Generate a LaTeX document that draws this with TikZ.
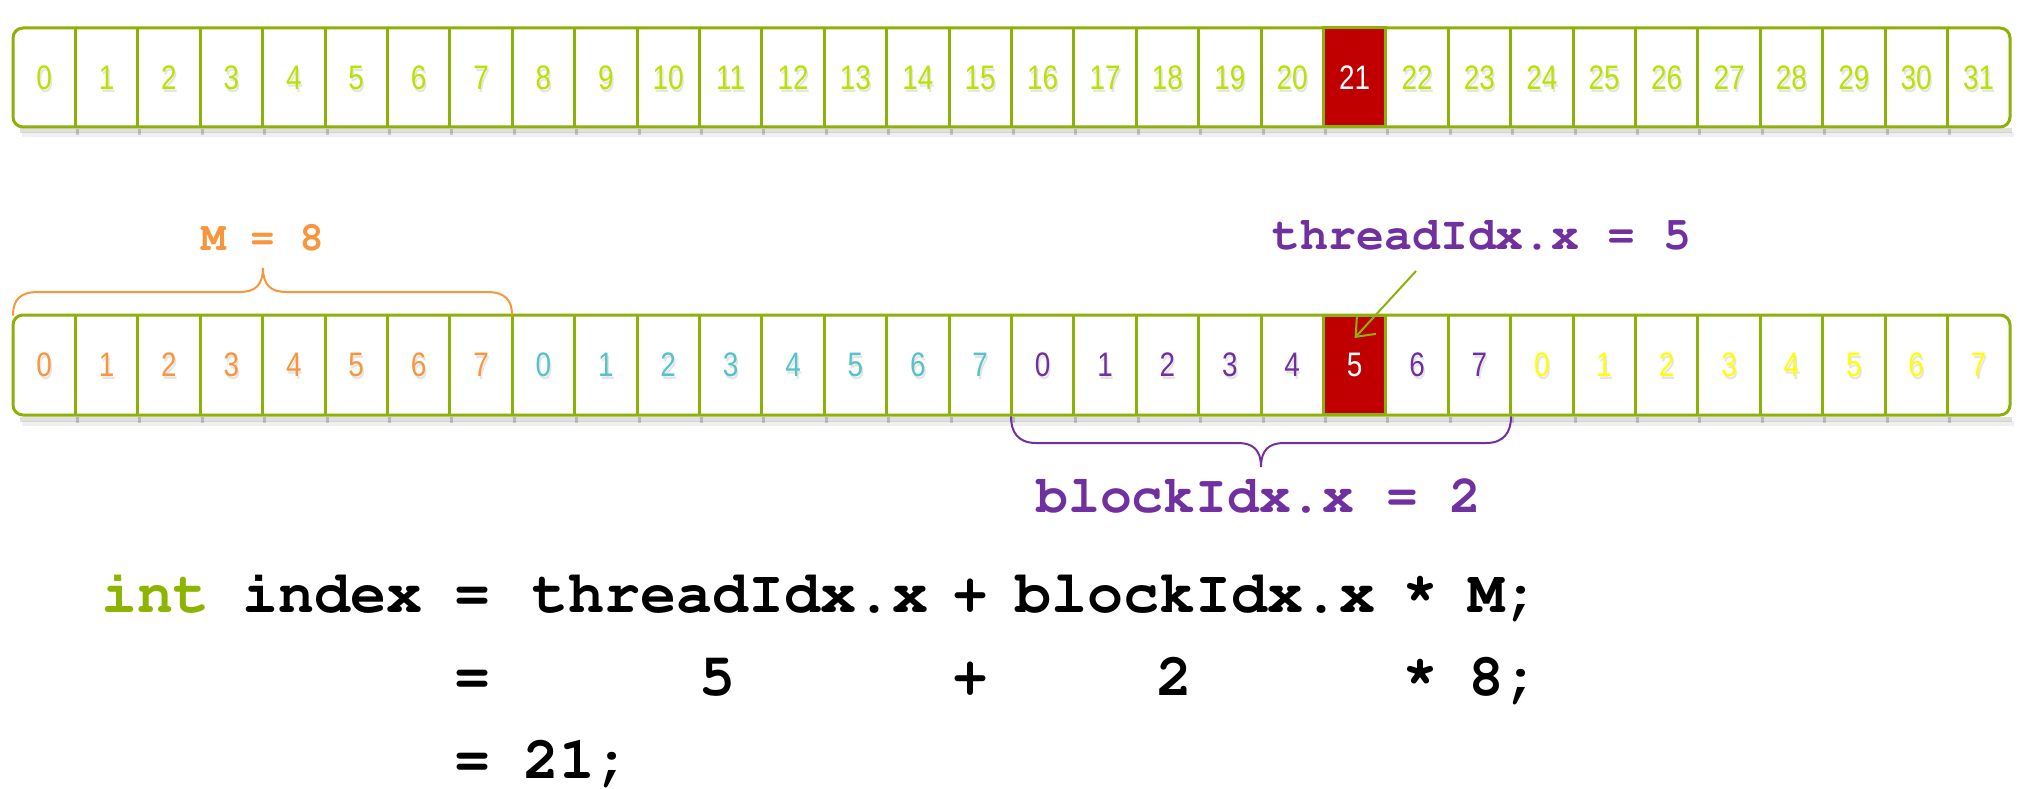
\documentclass[tikz,border=0pt]{standalone}
\usepackage[T1]{fontenc}
\usepackage{fontspec}
\setmainfont{Liberation Sans}
\setmonofont{Liberation Mono}
\newfontfamily\cellfont[FakeStretch=0.82]{Liberation Sans}
\newcommand\courb{\fontencoding{T1}\fontfamily{pcr}\fontseries{b}\fontshape{n}\selectfont}
\usetikzlibrary{arrows.meta,calc}
\definecolor{bordergreen}{RGB}{140,178,10}
\definecolor{limeg}{RGB}{184,226,0}
\definecolor{cellred}{RGB}{192,0,0}
\definecolor{orng}{RGB}{247,150,60}
\definecolor{tealc}{RGB}{85,195,200}
\definecolor{purp}{RGB}{112,48,160}
\definecolor{yell}{RGB}{255,255,0}
\definecolor{intgreen}{RGB}{140,180,0}
\tikzset{
  rowbox/.style={draw=bordergreen, line width=3, rounded corners=10, fill=white},
  divider/.style={draw=bordergreen, line width=3},
  cellnum/.style={font=\cellfont\fontsize{34}{34}\selectfont, inner sep=0, minimum width=62.4, minimum height=99},
  digshadow/.style={cellnum, text=black, text opacity=0.10},
  redcell/.style={cellnum, fill=cellred, draw=bordergreen, line width=3, text=white},
  codefont/.style={font=\courb\fontsize{60}{60}\selectfont, inner sep=0, anchor=base},
  brace/.style={line width=2, line cap=round},
  arr/.style={draw=bordergreen, line width=2, -{Straight Barb[length=16,width=26,line width=2]}},
}
\begin{document}
\begin{tikzpicture}[x=1pt,y=-1pt]
\useasboundingbox (0,0) rectangle (2031,789);

% ---------- row shadows ----------
\foreach \yb in {127,415}{
  \draw[black, opacity=0.12, line width=5] (20,\yb+4) -- (2012,\yb+4);
  \draw[black, opacity=0.06, line width=5] (22,\yb+8) -- (2014,\yb+8);
  \foreach \k in {1,...,31}{
    \draw[black, opacity=0.18, line width=3] ({13+62.4*\k+2},\yb+2) -- ({13+62.4*\k+2},\yb+8);
  }
}

% ---------- top row ----------
\draw[rowbox] (13,28) rectangle (2010,127);
\foreach \k in {1,...,31}{
  \draw[divider] ({13+62.4*\k},28) -- ({13+62.4*\k},127);
}
\node[redcell] (t21) at ({13+62.4*21.5},77.5) {21};
\foreach \i in {0,...,31}{
  \ifnum\i=21\relax\else
    \node[digshadow] (ts\i) at ({13+62.4*(\i+0.5)+1.5},80.5) {\i};
    \node[cellnum, text=limeg] (t\i) at ({13+62.4*(\i+0.5)},77.5) {\i};
  \fi
}

% ---------- second row ----------
\draw[rowbox] (13,315) rectangle (2010,415);
\foreach \k in {1,...,31}{
  \draw[divider] ({13+62.4*\k},315) -- ({13+62.4*\k},415);
}
\node[redcell] (b21) at ({13+62.4*21.5},365) {5};
\foreach \i in {0,...,31}{
  \pgfmathtruncatemacro\blk{int(\i/8)}
  \pgfmathtruncatemacro\thr{mod(\i,8)}
  \edef\clr{\ifcase\blk orng\or tealc\or purp\or yell\fi}
  \ifnum\i=21\relax\else
    \node[digshadow] (bs\i) at ({13+62.4*(\i+0.5)+1.5},368) {\thr};
    \node[cellnum, text=\clr] (b\i) at ({13+62.4*(\i+0.5)},365) {\thr};
  \fi
}

% ---------- orange brace and M = 8 ----------
\draw[brace, orng] (13,315) .. controls (13,300) and (20,292) .. (38,292) -- (240,292)
  .. controls (255,292) and (263,285) .. (263,268)
  .. controls (263,285) and (271,292) .. (286,292) -- (487,292)
  .. controls (505,292) and (512,300) .. (512,315);
\node[font=\courb\fontsize{41}{41}\selectfont, text=orng, inner sep=0, anchor=base] (mlab) at (262.5,250) {M = 8};

% ---------- threadIdx label and arrow ----------
\node[font=\courb\fontsize{46.5}{46.5}\selectfont, text=purp, inner sep=0, anchor=base] (thrlab) at (1482,249) {threadIdx.x = 5};
\coordinate (arrS) at (1416,271);
\draw[arr] (arrS) -- ([yshift=-24pt]b21.north);

% ---------- purple brace and blockIdx ----------
\draw[brace, purp] (1011,417) .. controls (1011,432) and (1018,443) .. (1036,443) -- (1238,443)
  .. controls (1253,443) and (1261,450) .. (1261,467)
  .. controls (1261,450) and (1269,443) .. (1284,443) -- (1486,443)
  .. controls (1504,443) and (1511,432) .. (1511,417);
\node[font=\courb\fontsize{53}{53}\selectfont, text=purp, inner sep=0, anchor=base] (blklab) at (1259,512) {blockIdx.x = 2};

% ---------- code ----------
\node[codefont, text=intgreen] (c1a) at (155.5,612) {int};
\node[codefont] (c1b) at (332,612) {index};
\node[codefont] (c1c) at (472,612) {=};
\node[codefont] (c1d) at (730,612) {threadIdx.x};
\node[codefont] (c1e) at (970,612) {+};
\node[codefont] (c1f) at (1195,612) {blockIdx.x};
\node[codefont] (c1g) at (1420,604) {*};
\node[codefont] (c1h) at (1504,612) {M;};
\node[codefont] (c2a) at (472,695) {=};
\node[codefont] (c2b) at (717.5,695) {5};
\node[codefont] (c2c) at (970,695) {+};
\node[codefont] (c2d) at (1174,695) {2};
\node[codefont] (c2e) at (1420,687) {*};
\node[codefont] (c2f) at (1504,695) {8;};
\node[codefont] (c3a) at (472,778) {=};
\node[codefont] (c3b) at (577,778) {21;};
\end{tikzpicture}
\end{document}
